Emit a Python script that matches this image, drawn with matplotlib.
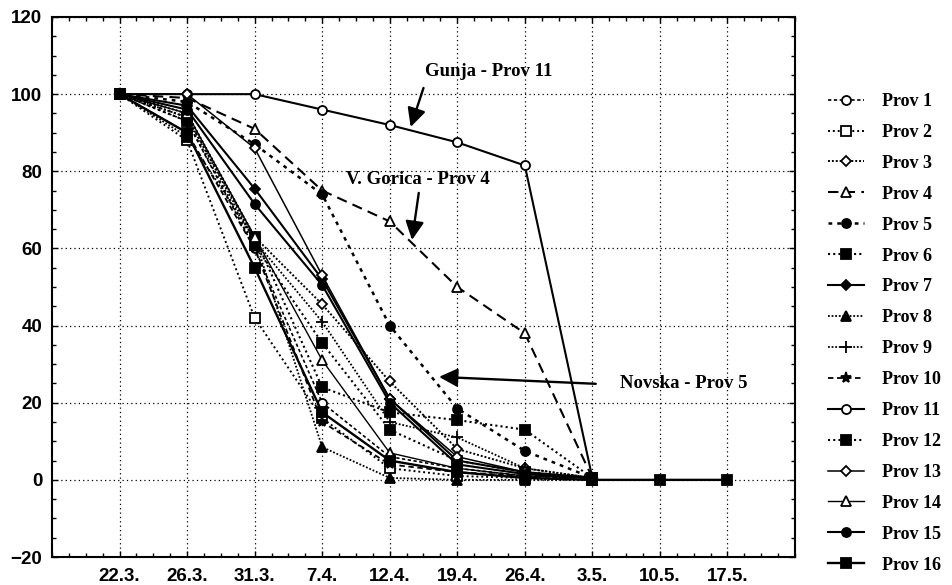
import numpy as np
import matplotlib
matplotlib.use('Agg')
import matplotlib.pyplot as plt
from matplotlib.ticker import AutoMinorLocator

nan = np.nan

dates = ['22.3.', '26.3.', '31.3.', '7.4.', '12.4.', '19.4.', '26.4.', '3.5.', '10.5.', '17.5.']

prov1 = [100, 93, 60, 20, 6, 3, 1, 0.5, nan, nan]
prov2 = [100, 88, 42, 16, 3, 1, 0.5, 0, nan, nan]
prov3 = [100, 95, 63, 45.5, 25.5, 8, 3, 0.5, nan, nan]
prov4 = [100, 99, 91, 75, 67, 50, 38, 0.5, nan, nan]
prov5 = [100, 98, 87, 74, 40, 18.5, 7.5, 0.5, nan, nan]
prov6 = [100, 93, 61, 35.5, 13, 5, 2, 0.5, nan, nan]
prov7 = [100, 97, 75.5, 52, 21, 5, 2, 0.5, nan, nan]
prov8 = [100, 89, 62.5, 8.5, 0.5, 0, 0, 0, nan, nan]
prov9 = [100, 94, 62, 41, 15, 11, 3, 0.5, nan, nan]
prov10 = [100, 90, 60, 15, 4, 2, 1, 0.5, nan, nan]
prov11 = [100, 100, 100, 96, 92, 87.5, 81.5, 0.5, nan, nan]
prov12 = [100, 94, 63, 24, 17.5, 15.5, 13, 0.5, nan, nan]
prov13 = [100, 100, 86, 53, 21, 6, 2, 0.5, nan, nan]
prov14 = [100, 95, 63, 31, 7, 3, 1, 0.5, nan, nan]
prov15 = [100, 96, 71.5, 50.5, 20, 4, 1.5, 0.5, nan, nan]
prov16 = [100, 90, 55, 17.5, 5, 2, 0.5, 0, 0, 0]

series = [prov1, prov2, prov3, prov4, prov5, prov6, prov7, prov8,
          prov9, prov10, prov11, prov12, prov13, prov14, prov15, prov16]
labels = ['Prov %d' % (i + 1) for i in range(16)]

# (linestyle, linewidth, marker, filled)
styles = [
    ((0, (2, 1.5)), 1.2, 'o', False),
    ((0, (1, 1.5)), 1.4, 's', False),
    ((0, (1, 1)), 1.4, 'D', False),
    ((0, (5, 3)), 1.5, '^', False),
    ((0, (1.5, 2)), 1.8, 'o', True),
    ((0, (1, 1.5)), 1.5, 's', True),
    ('-', 1.5, 'D', True),
    ((0, (1, 1)), 1.3, '^', True),
    ((0, (1, 1)), 1.3, '+', True),
    ((0, (3, 2)), 1.3, '*', True),
    ('-', 1.5, 'o', False),
    ((0, (1, 1.5)), 1.5, 's', True),
    ('-', 1.1, 'D', False),
    ('-', 1.0, '^', False),
    ('-', 1.5, 'o', True),
    ('-', 1.7, 's', True),
]

fig = plt.figure(figsize=(9.53, 5.85), dpi=100)
ax = fig.add_axes([52 / 953, 1 - 557 / 585, (795 - 52) / 953, (557 - 17) / 585])

x = np.arange(len(dates))
handles = []
for vals, lab, (ls, lw, mk, filled) in zip(series, labels, styles):
    ms = 6.5
    if mk == 'D':
        ms = 5.5
    if mk in ('+', '*'):
        ms = 8
    h, = ax.plot(x, vals, linestyle=ls, linewidth=lw, color='black',
                 marker=mk, markersize=ms, markeredgewidth=1.3,
                 markerfacecolor='black' if filled else 'white',
                 markeredgecolor='black', label=lab)
    handles.append(h)

ax.set_xlim(-1, 10)
ax.set_ylim(-20, 120)
ax.set_xticks(x)
ax.set_xticklabels(dates)
ax.set_yticks(np.arange(-20, 121, 20))
ax.xaxis.set_minor_locator(AutoMinorLocator(4))
ax.yaxis.set_minor_locator(AutoMinorLocator(4))
ax.tick_params(which='both', direction='in', top=True, right=True)
ax.tick_params(which='major', length=4, width=1)
ax.tick_params(which='minor', length=3, width=1)
ax.tick_params(axis='x', pad=8)
ax.tick_params(axis='y', pad=7)
for lab in ax.get_xticklabels() + ax.get_yticklabels():
    lab.set_fontfamily('Liberation Sans')
    lab.set_fontweight('bold')
    lab.set_fontsize(13.5)
for sp in ax.spines.values():
    sp.set_linewidth(1.5)
ax.grid(True, which='major', color='black', linestyle=(0, (1, 2.5)), linewidth=0.9)

serif = {'family': 'Liberation Serif', 'size': 13.5, 'weight': 'bold'}
arrow = dict(arrowstyle='-|>', mutation_scale=28, lw=1.7, color='black', shrinkA=0, shrinkB=0)
ax.annotate('', xy=(4.31, 91.5), xytext=(4.5, 101.6), arrowprops=arrow)
ax.text(5.47, 105.8, 'Gunja - Prov 11', ha='center', va='center', fontdict=serif)
ax.annotate('', xy=(4.33, 62.2), xytext=(4.43, 74.4), arrowprops=arrow)
ax.text(4.42, 77.8, 'V. Gorica - Prov 4', ha='center', va='center', fontdict=serif)
ax.annotate('', xy=(4.73, 26.7), xytext=(7.05, 24.9), arrowprops=arrow)
ax.text(8.36, 25.1, 'Novska - Prov 5', ha='center', va='center', fontdict=serif)

fig.legend(handles=handles, loc='upper left', bbox_to_anchor=(828 / 953, 1 - 93 / 585),
           frameon=False, borderpad=0, borderaxespad=0, numpoints=1,
           handlelength=2.0, handletextpad=1.0, labelspacing=0.77,
           prop={'family': 'Liberation Serif', 'weight': 'bold', 'size': 13})

fig.savefig('out.png', dpi=100)
